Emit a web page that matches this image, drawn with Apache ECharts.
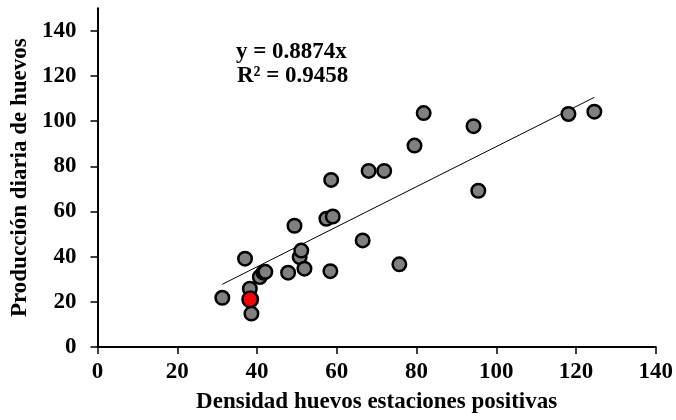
<!DOCTYPE html>
<html>
<head>
<meta charset="utf-8">
<script src="https://cdn.jsdelivr.net/npm/echarts@6/dist/echarts.min.js"></script>
<style>html,body{margin:0;padding:0;background:#fff;}#c{width:676px;height:420px;}</style>
</head>
<body>
<div id="c"></div>
<script>
// Data
const densidad = [31.3, 38.6, 38.2, 37.0, 40.7, 41.6, 42.1, 47.8, 50.7, 51.1, 51.9, 49.4, 58.4, 66.5, 75.7, 57.4, 59.0, 58.6, 68.0, 71.9, 79.5, 81.8, 94.3, 95.5, 118.1, 124.6];
const produccion = [21.8, 14.8, 25.8, 39.1, 31.0, 32.9, 33.3, 32.9, 39.8, 42.7, 34.7, 53.7, 33.6, 47.2, 36.6, 56.8, 57.8, 74.0, 78.0, 78.0, 89.2, 103.6, 97.8, 69.2, 103.2, 104.2];
const destacadoX = [38.3];
const destacadoY = [21.1];
const pendiente = 0.8874;
const r2 = 0.9458;
const xTicks = [0, 20, 40, 60, 80, 100, 120, 140];
const yTicks = [0, 20, 40, 60, 80, 100, 120, 140];

const FONT = '"Liberation Serif", "Times New Roman", serif';
const FS = 23;
const pts = densidad.map((x, i) => [x, produccion[i]]);
const red = destacadoX.map((x, i) => [x, destacadoY[i]]);
const allX = densidad.concat(destacadoX);
const xmin = Math.min(...allX), xmax = Math.max(...allX);
const trend = [[xmin, pendiente * xmin], [xmax, pendiente * xmax]];

const chart = echarts.init(document.getElementById('c'), null, {renderer: 'canvas'});
chart.setOption({
  animation: false,
  backgroundColor: '#fff',
  grid: {left: 97.5, right: 19, top: 8.3, bottom: 73, containLabel: false},
  xAxis: {
    type: 'value', min: 0, max: 140, interval: 20,
    name: 'Densidad huevos estaciones positivas',
    nameLocation: 'middle', nameGap: 44,
    nameTextStyle: {fontFamily: FONT, fontWeight: 'bold', fontSize: FS, color: '#000'},
    axisLine: {show: true, lineStyle: {color: '#000', width: 2}},
    axisTick: {show: true, inside: false, length: 7, lineStyle: {color: '#000', width: 1.5}, customValues: xTicks},
    axisLabel: {margin: 14, fontFamily: FONT, fontWeight: 'bold', fontSize: FS, color: '#000', customValues: xTicks},
    splitLine: {show: false}
  },
  yAxis: {
    type: 'value', min: 0, max: 150, interval: 20,
    name: 'Producción diaria de huevos',
    nameLocation: 'middle', nameGap: 62, nameRotate: 90,
    nameTextStyle: {fontFamily: FONT, fontWeight: 'bold', fontSize: FS, color: '#000'},
    axisLine: {show: true, lineStyle: {color: '#000', width: 2}},
    axisTick: {show: true, inside: false, length: 7, lineStyle: {color: '#000', width: 1.5}, customValues: yTicks},
    axisLabel: {margin: 21, fontFamily: FONT, fontWeight: 'bold', fontSize: FS, color: '#000', customValues: yTicks},
    splitLine: {show: false}
  },
  series: [
    {
      type: 'line', data: trend, symbol: 'none', silent: true, z: 1,
      lineStyle: {color: '#000', width: 1}
    },
    {
      type: 'scatter', data: pts, symbol: 'circle', symbolSize: 13.5, z: 2,
      itemStyle: {color: '#808080', borderColor: '#000', borderWidth: 2.5, opacity: 1}
    },
    {
      type: 'scatter', data: red, symbol: 'circle', symbolSize: 15.5, z: 3,
      itemStyle: {color: '#ff0000', borderColor: '#000', borderWidth: 2.5, opacity: 1}
    }
  ],
  graphic: [
    {
      type: 'text', left: 236, top: 41, z: 10,
      style: {text: 'y = ' + pendiente.toFixed(4) + 'x', font: 'bold ' + FS + 'px ' + FONT, fill: '#000'}
    },
    {
      type: 'text', left: 237, top: 65, z: 10,
      style: {text: 'R² = ' + r2.toFixed(4), font: 'bold ' + FS + 'px ' + FONT, fill: '#000'}
    }
  ]
});
</script>
</body>
</html>
